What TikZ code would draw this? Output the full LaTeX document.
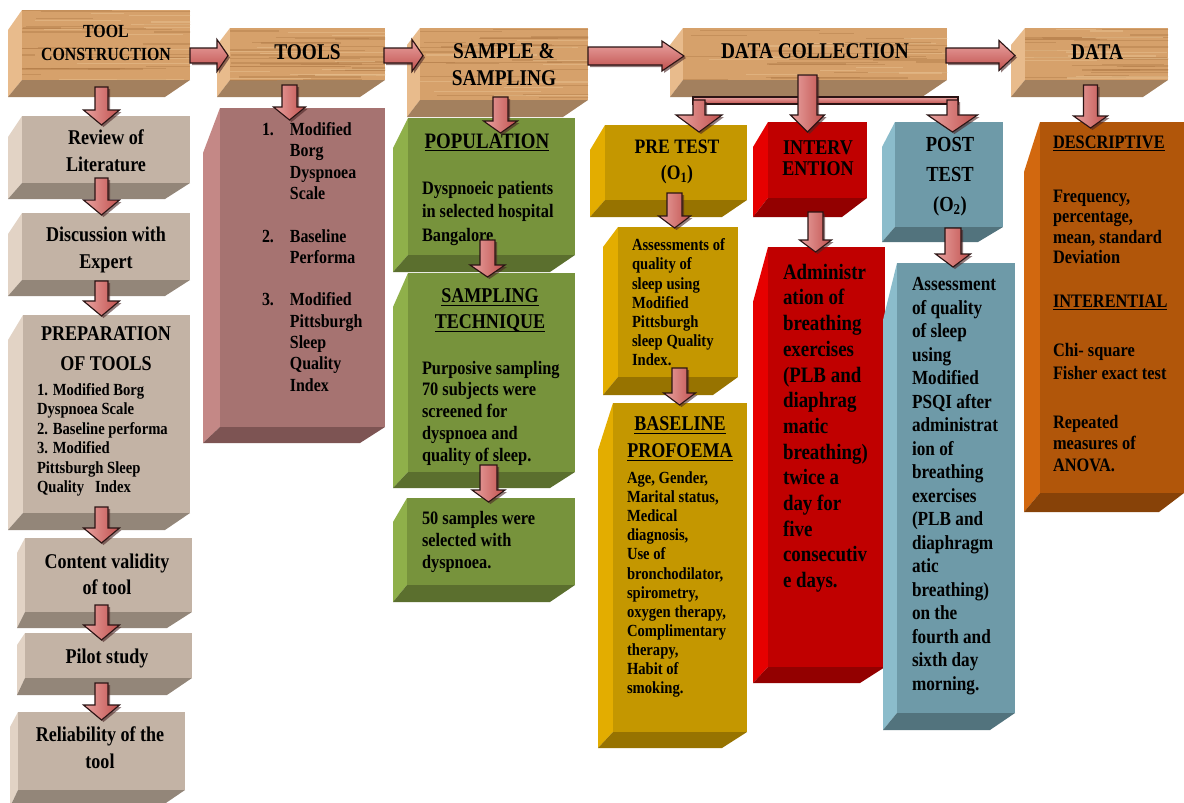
\documentclass[tikz,border=0pt]{standalone}
\usepackage{fontspec}
\setmainfont{Liberation Serif}[FakeStretch=0.86]
\usetikzlibrary{calc}

\definecolor{woodF}{HTML}{D6A16B}
\definecolor{woodL}{HTML}{E8BB8C}
\definecolor{woodB}{HTML}{A3805E}
\definecolor{woodS}{HTML}{B27C48}
\definecolor{woodH}{HTML}{E6BD8C}
\definecolor{greyF}{HTML}{C3B3A5}
\definecolor{greyL}{HTML}{E2D3C5}
\definecolor{greyB}{HTML}{938679}
\definecolor{mauveF}{HTML}{A67371}
\definecolor{mauveL}{HTML}{C48886}
\definecolor{mauveB}{HTML}{7D5453}
\definecolor{greenF}{HTML}{77933C}
\definecolor{greenL}{HTML}{8FB04A}
\definecolor{greenB}{HTML}{5B6F2E}
\definecolor{goldF}{HTML}{C49700}
\definecolor{goldL}{HTML}{E3AD00}
\definecolor{goldB}{HTML}{977300}
\definecolor{redF}{HTML}{C00000}
\definecolor{redL}{HTML}{E60000}
\definecolor{redB}{HTML}{930000}
\definecolor{blueF}{HTML}{6E9AA8}
\definecolor{blueL}{HTML}{8BBCCB}
\definecolor{blueB}{HTML}{52737D}
\definecolor{orangeF}{HTML}{B1560A}
\definecolor{orangeL}{HTML}{D2680F}
\definecolor{orangeB}{HTML}{874208}
\definecolor{arrL}{HTML}{E9A3A1}
\definecolor{arrD}{HTML}{C0504D}
\definecolor{arrO}{HTML}{2B1414}
\definecolor{arrShade}{HTML}{4A2525}

\newcommand{\fz}[2]{\fontsize{#1}{#2}\selectfont\bfseries}
\newcommand{\myul}[1]{\sbox0{#1}\rlap{\rule[-2.8pt]{\wd0}{1.2pt}}\usebox0}

% 3-D box: name, x1, y1, x2, y2, colour family, side width, top slant, depth
\newcommand{\tdbox}[9]{%
  \fill[#6L] (#2,#3) -- ({#2-#7},{#3+#8}) -- ({#2-#7},{#5+#9}) -- (#2,#5) -- cycle;
  \fill[#6B] (#2,#5) -- (#4,#5) -- ({#4-25},{#5+#9}) -- ({#2-#7},{#5+#9}) -- cycle;
  \node[inner sep=0pt, outer sep=0pt, anchor=north west, fill=#6F,
        minimum width={(#4-#2)*1pt}, minimum height={(#5-#3)*1pt}] (#1) at (#2,#3) {};
}
\newcommand{\woodgrain}[4]{%
  \begin{scope}
    \clip (#1,#2) rectangle (#3,#4);
    \foreach \k in {1,...,26}{
      \pgfmathsetmacro{\gy}{#2+rnd*(#4-#2)}
      \pgfmathsetmacro{\gx}{#1-30+rnd*(#3-#1)}
      \pgfmathsetmacro{\gl}{30+rnd*130}
      \pgfmathsetmacro{\gw}{0.4+rnd*1.3}
      \draw[woodS, line width=\gw pt, opacity=0.45] (\gx,\gy) -- ++(\gl,0);
    }
    \foreach \k in {1,...,12}{
      \pgfmathsetmacro{\gy}{#2+rnd*(#4-#2)}
      \pgfmathsetmacro{\gx}{#1-30+rnd*(#3-#1)}
      \pgfmathsetmacro{\gl}{30+rnd*120}
      \draw[woodH, line width=1.2pt, opacity=0.6] (\gx,\gy) -- ++(\gl,0);
    }
  \end{scope}
}
% vertical block arrow: shaft half width, head half width, head length, start, tip
\newcommand{\varr}[5]{%
  \fill[arrShade, opacity=0.6] let \p1=(#4), \p2=(#5) in
    (\x1-#1pt+2pt,\y1-2pt) -- (\x1+#1pt+2pt,\y1-2pt) -- (\x1+#1pt+2pt,\y2+#3pt-2pt)
    -- (\x1+#2pt+2pt,\y2+#3pt-2pt) -- (\x1+2pt,\y2-2pt) -- (\x1-#2pt+2pt,\y2+#3pt-2pt)
    -- (\x1-#1pt+2pt,\y2+#3pt-2pt) -- cycle;
  \path[arrV] let \p1=(#4), \p2=(#5) in
    (\x1-#1pt,\y1) -- (\x1+#1pt,\y1) -- (\x1+#1pt,\y2+#3pt) -- (\x1+#2pt,\y2+#3pt)
    -- (\x1,\y2) -- (\x1-#2pt,\y2+#3pt) -- (\x1-#1pt,\y2+#3pt) -- cycle;
}
% horizontal block arrow
\newcommand{\harr}[5]{%
  \fill[arrShade, opacity=0.6] let \p1=(#4), \p2=(#5) in
    (\x1+2pt,\y1+#1pt-2pt) -- (\x2-#3pt+2pt,\y1+#1pt-2pt) -- (\x2-#3pt+2pt,\y1+#2pt-2pt)
    -- (\x2+2pt,\y1-2pt) -- (\x2-#3pt+2pt,\y1-#2pt-2pt) -- (\x2-#3pt+2pt,\y1-#1pt-2pt)
    -- (\x1+2pt,\y1-#1pt-2pt) -- cycle;
  \path[arrH] let \p1=(#4), \p2=(#5) in
    (\x1,\y1+#1pt) -- (\x2-#3pt,\y1+#1pt) -- (\x2-#3pt,\y1+#2pt) -- (\x2,\y1)
    -- (\x2-#3pt,\y1-#2pt) -- (\x2-#3pt,\y1-#1pt) -- (\x1,\y1-#1pt) -- cycle;
}

\tikzset{
  arrV/.style={draw=arrO, line width=1.1pt, left color=arrL, right color=arrD},
  arrH/.style={draw=arrO, line width=1.1pt, top color=arrL, bottom color=arrD},
  txt/.style={inner sep=0pt, outer sep=0pt, text=black},
}

\begin{document}
\begin{tikzpicture}[x=1pt,y=-1pt]
\pgfmathsetseed{17}
\fill[white] (0,0) rectangle (1184,803);
\useasboundingbox (0,0) rectangle (1184,803);

% ---------- top row (wood) ----------
\tdbox{tc}{22}{10}{190}{80}{wood}{14}{20}{17}
\woodgrain{22}{10}{190}{80}
\tdbox{tools}{230}{28}{385}{80}{wood}{13}{17}{17}
\woodgrain{230}{28}{385}{80}
\tdbox{samp}{420}{28}{588}{100}{wood}{13}{17}{17}
\woodgrain{420}{28}{588}{100}
\tdbox{dc}{683}{28}{947}{80}{wood}{13}{17}{17}
\woodgrain{683}{28}{947}{80}
\tdbox{data}{1025}{28}{1168}{80}{wood}{14}{17}{17}
\woodgrain{1025}{28}{1168}{80}

% ---------- column 1 ----------
\tdbox{rev}{22}{116}{190}{183}{grey}{14}{21}{16}
\tdbox{disc}{22}{213}{190}{280}{grey}{14}{21}{16}
\tdbox{prep}{23}{315}{190}{513}{grey}{15}{25}{17}
\tdbox{cont}{25}{538}{192}{612}{grey}{8}{15}{16}
\tdbox{pilot}{25}{633}{192}{678}{grey}{8}{12}{17}
\tdbox{rel}{18}{712}{185}{790}{grey}{8}{15}{17}

% ---------- other columns ----------
\tdbox{tlist}{220}{108}{385}{427}{mauve}{17}{45}{16}
\tdbox{pop}{408}{118}{575}{255}{green}{15}{30}{17}
\tdbox{stech}{408}{273}{575}{472}{green}{15}{34}{16}
\tdbox{fifty}{407}{498}{575}{585}{green}{14}{24}{17}
\tdbox{pre}{605}{125}{747}{200}{gold}{15}{25}{17}
\tdbox{assess1}{618}{227}{738}{377}{gold}{15}{20}{18}
\tdbox{base}{613}{403}{747}{732}{gold}{15}{47}{16}
\tdbox{interv}{768}{122}{867}{198}{red}{15}{25}{19}
\tdbox{admin}{768}{247}{885}{667}{red}{15}{55}{16}
\tdbox{post}{895}{122}{1003}{227}{blue}{13}{25}{15}
\tdbox{assess2}{897}{263}{1015}{713}{blue}{14}{57}{17}
\tdbox{desc}{1040}{122}{1184}{493}{orange}{16}{50}{19}

% ---------- texts ----------
\node[txt, align=center, anchor=north, font=\fz{18.5}{23}] (tct) at (106,25.5) {TOOL\\CONSTRUCTION};
\node[txt, font=\fz{22.5}{27}] (toolst) at (307.5,52) {TOOLS};
\node[txt, align=center, anchor=north, font=\fz{22.5}{27}] (sampt) at (504,44) {SAMPLE \&\\SAMPLING};
\node[txt, font=\fz{22.5}{27}] (dct) at (815,51) {DATA COLLECTION};
\node[txt, font=\fz{22.5}{27}] (datat) at (1097,52) {DATA};

\node[txt, align=center, anchor=north, font=\fz{21}{27}] (revt) at (106,130) {Review of\\Literature};
\node[txt, align=center, anchor=north, font=\fz{21}{27}] (disct) at (106,227) {Discussion with\\Expert};
\node[txt, align=center, anchor=north, font=\fz{21}{30}] (prept) at (106,327) {PREPARATION\\OF TOOLS};
\node[txt, align=left, anchor=north west, font=\fz{17}{19.4}] (prepl) at (37,383.5)
  {1. Modified Borg\\Dyspnoea Scale\\2. Baseline performa\\3. Modified\\Pittsburgh Sleep\\Quality\ \ \ Index};
\node[txt, align=center, anchor=north, font=\fz{21}{26}] (contt) at (107,554) {Content validity\\of tool};
\node[txt, align=center, anchor=north, font=\fz{21}{26}] (pilott) at (107,649) {Pilot study};
\node[txt, align=center, anchor=north, font=\fz{21}{27}] (relt) at (100,727) {Reliability of the\\tool};

\node[txt, anchor=north west, font=\fz{18.5}{21.3}] (tlistt) at (262,120.6) {%
  \begin{tabular}{@{}l@{\hspace{16pt}}l@{}}
  1. & Modified\\ & Borg\\ & Dyspnoea\\ & Scale\\ & \\
  2. & Baseline\\ & Performa\\ & \\
  3. & Modified\\ & Pittsburgh\\ & Sleep\\ & Quality\\ & Index
  \end{tabular}};

\node[txt, anchor=north, font=\fz{22}{26}] (popt) at (487,134) {\myul{POPULATION}};
\node[txt, align=left, anchor=north west, font=\fz{19}{23.5}] (popb) at (422,181)
  {Dyspnoeic patients\\in selected hospital\\Bangalore};
\node[txt, align=center, anchor=north, font=\fz{21}{26}] (stecht) at (490,289)
  {\myul{SAMPLING}\\\myul{TECHNIQUE}};
\node[txt, align=left, anchor=north west, font=\fz{19}{21.75}] (stechb) at (422,361)
  {Purposive sampling\\70 subjects were\\screened for\\dyspnoea and\\quality of sleep.};
\node[txt, align=left, anchor=north west, font=\fz{19}{22}] (fiftyt) at (422,511)
  {50 samples were\\selected with\\dyspnoea.};

\node[txt, align=center, anchor=north, font=\fz{20.5}{26}] (pret) at (677,139.5) {PRE TEST\\(O\textsubscript{1})};
\node[txt, align=left, anchor=north west, font=\fz{17}{19.2}] (ass1t) at (632,238.7)
  {Assessments of\\quality of\\sleep using\\Modified\\Pittsburgh\\sleep Quality\\Index.};
\node[txt, align=center, anchor=north, font=\fz{21}{27}] (baset) at (680,417)
  {\myul{BASELINE}\\\myul{PROFOEMA}};
\node[txt, align=left, anchor=north west, font=\fz{17}{19.1}] (baseb) at (627,471.7)
  {Age, Gender,\\Marital status,\\Medical\\diagnosis,\\Use of\\bronchodilator,\\spirometry,\\oxygen therapy,\\Complimentary\\therapy,\\Habit of\\smoking.};

\node[txt, align=center, anchor=north, font=\fz{21}{21}] (intt) at (818,140.6) {INTERV\\ENTION};
\node[txt, align=left, anchor=north west, font=\fz{22}{25.7}] (admint) at (783,264)
  {Administr\\ation of\\breathing\\exercises\\(PLB and\\diaphrag\\matic\\breathing)\\twice a\\day for\\five\\consecutiv\\e days.};

\node[txt, align=center, anchor=north, font=\fz{21.5}{30}] (postt) at (950,137) {POST\\TEST\\(O\textsubscript{2})};
\node[txt, align=left, anchor=north west, font=\fz{20}{23.5}] (ass2t) at (912,277.6)
  {Assessment\\of quality\\of sleep\\using\\Modified\\PSQI after\\administrat\\ion of\\breathing\\exercises\\(PLB and\\diaphragm\\atic\\breathing)\\on the\\fourth and\\sixth day\\morning.};

\node[txt, anchor=north west, font=\fz{19}{22}] (desct) at (1053,136) {\myul{DESCRIPTIVE}};
\node[txt, align=left, anchor=north west, font=\fz{19}{20.3}] (descb1) at (1053,190)
  {Frequency,\\percentage,\\mean, standard\\Deviation};
\node[txt, anchor=north west, font=\fz{19}{22}] (inft) at (1053,295) {\myul{INTERENTIAL}};
\node[txt, align=left, anchor=north west, font=\fz{19}{23}] (descb2) at (1053,343)
  {Chi- square\\Fisher exact test};
\node[txt, align=left, anchor=north west, font=\fz{19}{21.5}] (descb3) at (1053,415)
  {Repeated\\measures of\\ANOVA.};

% ---------- horizontal arrows ----------
\harr{7.5}{16}{11}{$(tc.east)+(0,10.5)$}{$(tools.west)+(-2,0)$}
\harr{7.5}{16}{11}{$(tools.east)+(-1,1.5)$}{$(samp.west)+(3,0)$}
\harr{9}{15}{22}{$(samp.east)+(0,-8)$}{$(dc.west)+(1,0)$}
\harr{7.5}{15}{16}{$(dc.east)+(-1,1.5)$}{$(data.west)+(-10,0)$}

% ---------- vertical arrows ----------
\varr{6.5}{18}{15}{$(tc.south)+(-4.5,7)$}{$(rev.north)+(-4.5,9)$}
\varr{6.5}{18}{15}{$(rev.south)+(-4.5,-5)$}{$(disc.north)+(-4.5,2)$}
\varr{6.5}{18}{15}{$(disc.south)+(-4.5,1)$}{$(prep.north)+(-5,1)$}
\varr{6.5}{18}{15}{$(prep.south)+(-5,-6)$}{$(cont.north)+(-7,5)$}
\varr{6.5}{18}{15}{$(cont.south)+(-7,-7)$}{$(pilot.north)+(-7,7)$}
\varr{6.5}{18}{15}{$(pilot.south)+(-7,5)$}{$(rel.north)+(0,8)$}

\varr{7.5}{16}{13}{$(tools.south)+(-18,5)$}{$(tlist.north)+(-13,12)$}

\varr{7.5}{17}{12}{$(samp.south)+(-3.5,-3)$}{$(pop.north)+(9,15)$}
\varr{7.5}{17.5}{12}{$(pop.south)+(-4,-15)$}{$(stech.north)+(-4,4)$}
\varr{8.5}{16.5}{12}{$(stech.south)+(-3,-7)$}{$(fifty.north)+(-2.5,4)$}

\varr{7.5}{16}{12}{$(pre.south)+(-1.5,-7)$}{$(assess1.north)+(-3.5,1)$}
\varr{7.5}{16}{12}{$(assess1.south)+(1.5,-9)$}{$(base.north)+(-0.5,2)$}

\varr{7.5}{16}{12}{$(interv.south)+(-2,14)$}{$(admin.north)+(-11,5)$}
\varr{8}{17.5}{13}{$(post.south)+(4,1)$}{$(assess2.north)+(-3,4)$}
\varr{7}{17}{12}{$(data.south)+(-6,5)$}{$(desc.north)+(-21.5,6)$}

% ---------- branching from DATA COLLECTION ----------
\path[arrH] ($(dc.south)+(-122,17)$) rectangle ($(dc.south)+(143,24)$);
\varr{6}{23}{17}{$(dc.south)+(-116,20)$}{$(pre.north)+(23,7)$}
\varr{5.5}{25}{17}{$(dc.south)+(137.5,20)$}{$(post.north)+(3.5,10)$}
\varr{9.5}{17}{17}{$(dc.south)+(-7.5,-5)$}{$(interv.north)+(-10,10)$}

\end{tikzpicture}
\end{document}
